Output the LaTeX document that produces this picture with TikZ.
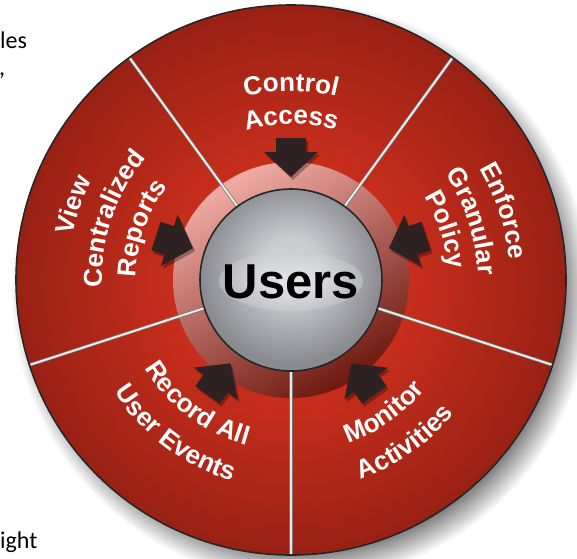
\documentclass[tikz,border=0pt]{standalone}
\usepackage{fontspec}
\setmainfont{Liberation Sans}
\newfontfamily\calfont{Carlito}
\newfontfamily\lblfont[LetterSpace=3]{Liberation Sans}
\usetikzlibrary{decorations.text}
\definecolor{redA}{RGB}{202,46,28}
\definecolor{redB}{RGB}{152,33,20}
\definecolor{ringTop}{RGB}{240,172,164}
\definecolor{ringMid}{RGB}{190,50,36}
\definecolor{ringBot}{RGB}{110,24,15}
\definecolor{grayIn}{RGB}{204,205,209}
\definecolor{grayOut}{RGB}{138,139,144}
\definecolor{arrowC}{RGB}{45,33,33}
\definecolor{shadowC}{RGB}{85,85,85}
\pgfdeclareradialshading{bigred}{\pgfpoint{0bp}{0bp}}{color(0bp)=(redA); color(10bp)=(redA); color(25bp)=(redB); color(50bp)=(redB)}
\pgfdeclareradialshading{outshadow}{\pgfpoint{0bp}{0bp}}{color(0bp)=(shadowC); color(21.5bp)=(shadowC); color(25bp)=(white); color(50bp)=(white)}
\pgfdeclareradialshading{grayball}{\pgfpoint{0bp}{4bp}}{color(0bp)=(grayIn); color(8bp)=(grayIn); color(25bp)=(grayOut); color(50bp)=(grayOut)}
\newcommand\txtfont{\lblfont\fontsize{26}{26}\selectfont\bfseries}
\newcommand\ArcTxt[5]{\path[decorate,decoration={text along path,text align=center,text color=#5,text={|\txtfont|#4}}] (#1:#3) arc[start angle=#1,end angle=#2,radius=#3];}
\newcommand\AllTxt[1]{%
  \ArcTxt{125}{55}{189}{Control}{#1}
  \ArcTxt{125}{55}{156}{Access}{#1}
  \ArcTxt{206}{116}{223}{View}{#1}
  \ArcTxt{206}{116}{189}{Centralized}{#1}
  \ArcTxt{206}{116}{155}{Reports}{#1}
  \ArcTxt{63}{-27}{219}{Enforce}{#1}
  \ArcTxt{63}{-27}{187}{Granular}{#1}
  \ArcTxt{63}{-27}{157}{Policy}{#1}
  \ArcTxt{-100}{-10}{173}{Monitor}{#1}
  \ArcTxt{-100}{-10}{211}{Activities}{#1}
  \ArcTxt{-172}{-82}{171}{Record All}{#1}
  \ArcTxt{-172}{-82}{209}{User Events}{#1}}
\tikzset{
  frag/.style={anchor=base west,inner sep=0pt,font=\calfont\fontsize{24}{24}\selectfont},
  divider/.style={line width=3.4pt,black!55},
  dividerin/.style={line width=2pt,white!92!black},
  arrowfill/.style={fill=arrowC},
  arrowshadow/.style={fill=black,opacity=0.3}
}
\begin{document}
\begin{tikzpicture}[x=1pt,y=1pt]
\useasboundingbox (-291,-278) rectangle (286,280);
% background text fragments
\node[frag] (f1) at (-291,232) {les};
\node[frag] (f2) at (-292,205) {,};
\node[frag] (f3) at (-291,-268) {ight};
% drop shadow
\shade[shading=outshadow] (10,-12) circle (290);
% big disc
\shade[shading=bigred] (0,0) circle (275);
% inner ring
\shade[top color=ringTop,middle color=ringMid,bottom color=ringBot,shading angle=30] (0,0) circle (118);
% dividers
\foreach \a in {54,126,198,270,342}{
  \draw[divider] (\a:91) -- (\a:274);
  \draw[dividerin] (\a:91) -- (\a:274);
}
\draw[line width=1.6pt,black!85] (0,0) circle (275);
% arrows
\foreach \a in {90,18,-54,-126,162}{
  \path[arrowshadow,shift={(2,-3)},shift={(\a:103)},rotate=\a-90]
    (0,0) -- (27,25) -- (15,25) -- (15,39) -- (-15,39) -- (-15,25) -- (-27,25) -- cycle;
  \path[arrowfill,shift={(\a:103)},rotate=\a-90]
    (0,0) -- (27,25) -- (15,25) -- (15,39) -- (-15,39) -- (-15,25) -- (-27,25) -- cycle;
}
% gray centre
\shade[shading=grayball] (0,0) circle (91);
\draw[line width=1.6pt,black!85] (0,0) circle (91);
\shade[inner color=white,outer color=grayIn,opacity=0.5] (0,-1) ellipse (72 and 30);
\node[font=\fontsize{49}{49}\selectfont\bfseries,anchor=base] (users) at (0,-18) {Users};
% segment labels
\AllTxt{white}
\end{tikzpicture}
\end{document}
